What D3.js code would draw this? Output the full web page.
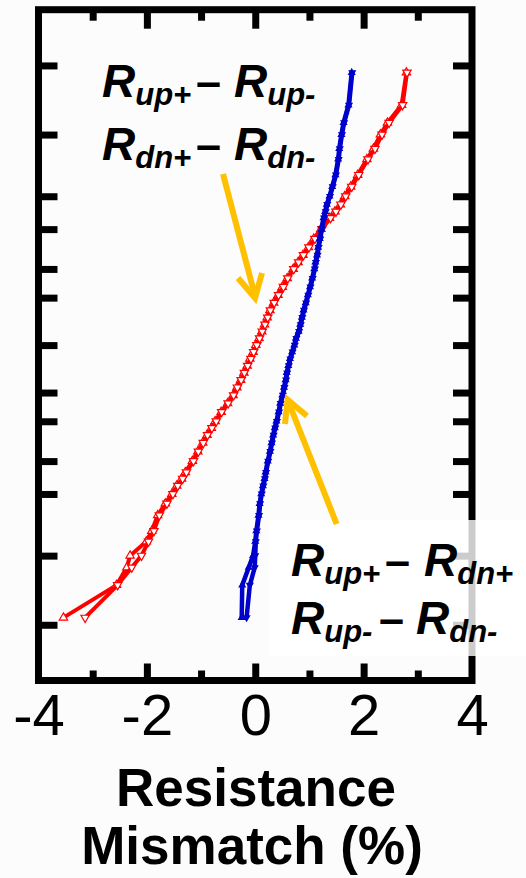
<!DOCTYPE html>
<head>
    <meta charset="utf-8">
    <script src="https://cdn.jsdelivr.net/npm/d3@7"></script>
    <style>
        body { margin: 0; background: #fcfcfc; }
        svg { display: block; font-family: "Liberation Sans", Arial, sans-serif; }
        .tick line { stroke: black; stroke-width: 7px; }
    </style>
</head>

<body>

<script>

    // cumulative probability (%) of each point, shared by every series
    var probs = [0.13, 0.4, 0.7, 1, 1.5, 2, 3, 4, 5, 6,
                 7, 8, 10, 12, 14, 16, 18, 20, 23, 26,
                 29, 32, 35, 38, 41, 44, 47, 50, 53, 56,
                 59, 62, 65, 68, 71, 74, 77, 80, 82, 84,
                 86, 88, 90, 92, 93, 94, 95, 96, 97, 98,
                 98.5, 99, 99.3, 99.6, 99.87];

    // red: Rup+ - Rup-  and  Rdn+ - Rdn-
    var redA = [-3.54, -2.56, -2.37, -2.31, -2.01, -1.91, -1.80, -1.66, -1.54, -1.45,
                -1.36, -1.29, -1.16, -1.06, -0.97, -0.89, -0.81, -0.74, -0.63, -0.51,
                -0.41, -0.34, -0.27, -0.21, -0.15, -0.10, -0.04, 0.01, 0.07, 0.12,
                0.17, 0.22, 0.27, 0.34, 0.42, 0.50, 0.59, 0.70, 0.79, 0.88,
                0.98, 1.08, 1.21, 1.37, 1.47, 1.57, 1.65, 1.76, 1.89, 2.06,
                2.18, 2.31, 2.44, 2.70, 2.79];
    var redB = [-3.14, -2.54, -2.28, -2.10, -1.97, -1.87, -1.77, -1.63, -1.52, -1.43,
                -1.34, -1.27, -1.14, -1.05, -0.96, -0.88, -0.80, -0.72, -0.62, -0.50,
                -0.40, -0.33, -0.26, -0.20, -0.14, -0.08, -0.03, 0.03, 0.08, 0.13,
                0.18, 0.23, 0.28, 0.35, 0.43, 0.52, 0.60, 0.71, 0.80, 0.89,
                0.99, 1.10, 1.23, 1.39, 1.49, 1.58, 1.67, 1.78, 1.91, 2.08,
                2.21, 2.34, 2.47, 2.72, 2.80];

    // blue: Rup+ - Rdn+  and  Rup- - Rdn-
    var blueA = [-0.25, -0.24, -0.12, -0.04, 0.00, 0.02, 0.06, 0.08, 0.11, 0.14,
                 0.17, 0.19, 0.23, 0.27, 0.30, 0.33, 0.36, 0.39, 0.43, 0.46,
                 0.50, 0.53, 0.56, 0.58, 0.61, 0.64, 0.68, 0.72, 0.75, 0.80,
                 0.83, 0.86, 0.89, 0.93, 0.97, 1.01, 1.05, 1.09, 1.11, 1.14,
                 1.16, 1.19, 1.22, 1.26, 1.29, 1.32, 1.37, 1.42, 1.48, 1.53,
                 1.55, 1.59, 1.63, 1.72, 1.78];
    var blueB = [-0.16, -0.10, -0.01, 0.00, 0.01, 0.03, 0.07, 0.09, 0.12, 0.15,
                 0.18, 0.20, 0.24, 0.28, 0.31, 0.34, 0.37, 0.40, 0.44, 0.47,
                 0.51, 0.54, 0.57, 0.59, 0.62, 0.65, 0.69, 0.73, 0.76, 0.81,
                 0.84, 0.87, 0.90, 0.94, 0.98, 1.02, 1.06, 1.10, 1.12, 1.15,
                 1.17, 1.20, 1.23, 1.27, 1.30, 1.33, 1.38, 1.43, 1.49, 1.54,
                 1.56, 1.60, 1.64, 1.73, 1.79];

    var xMajor = [-4, -2, 0, 2, 4];
    var xMinor = [-3, -1, 1, 3];
    var yTicks = [0.1, 1, 5, 10, 20, 30, 50, 70, 80, 90, 95, 99, 99.9];

    // inverse normal cdf (Acklam) for the probability axis
    function probit(p) {
        var a = [-3.969683028665376e+01, 2.209460984245205e+02, -2.759285104469687e+02, 1.383577518672690e+02, -3.066479806614716e+01, 2.506628277459239e+00];
        var b = [-5.447609879822406e+01, 1.615858368580409e+02, -1.556989798598866e+02, 6.680131188771972e+01, -1.328068155288572e+01];
        var c = [-7.784894002430293e-03, -3.223964580411365e-01, -2.400758277161838e+00, -2.549732539343734e+00, 4.374664141464968e+00, 2.938163982698783e+00];
        var d = [7.784695709041462e-03, 3.224671290700398e-01, 2.445134137142996e+00, 3.754408661907416e+00];
        var q, r;
        if (p < 0.02425) {
            q = Math.sqrt(-2 * Math.log(p));
            return (((((c[0]*q+c[1])*q+c[2])*q+c[3])*q+c[4])*q+c[5]) / ((((d[0]*q+d[1])*q+d[2])*q+d[3])*q+1);
        }
        if (p > 1 - 0.02425) {
            q = Math.sqrt(-2 * Math.log(1 - p));
            return -(((((c[0]*q+c[1])*q+c[2])*q+c[3])*q+c[4])*q+c[5]) / ((((d[0]*q+d[1])*q+d[2])*q+d[3])*q+1);
        }
        q = p - 0.5; r = q * q;
        return (((((a[0]*r+a[1])*r+a[2])*r+a[3])*r+a[4])*r+a[5])*q / (((((b[0]*r+b[1])*r+b[2])*r+b[3])*r+b[4])*r+1);
    }

    // frame edges (centre of the 7px border)
    var fLeft = 38.5, fRight = 472, fTop = 9.7, fBottom = 680.5;

    var x = d3.scaleLinear().domain([-4, 4]).range([fLeft, fRight]);
    var z = d3.scaleLinear().domain([-3.706, 3.706]).range([fBottom, fTop]);
    var y = function(p) { return z(probit(p / 100)); };

    var svg = d3.select("body").append("svg")
        .attr("width", 526)
        .attr("height", 878);

    // series
    var line = d3.line()
        .x(function(d) { return x(d[0]); })
        .y(function(d) { return y(d[1]); });

    function pts(vals) {
        return vals.map(function(v, i) { return [v, probs[i]]; });
    }

    var series = [
        { vals: redA, color: "#ff0000", width: 4, tri: 0, fill: "#ffffff", size: 30 },
        { vals: redB, color: "#ff0000", width: 4, tri: 180, fill: "#ffffff", size: 30 },
        { vals: blueA, color: "#0000cc", width: 4.5, tri: 0, fill: "#0000cc", size: 16 },
        { vals: blueB, color: "#0000cc", width: 4.5, tri: 180, fill: "#0000cc", size: 16 }
    ];

    var tri = d3.symbol().type(d3.symbolTriangle);

    series.forEach(function(s) {
        var g = svg.append("g");
        g.append("path")
            .datum(pts(s.vals))
            .attr("d", line)
            .attr("fill", "none")
            .attr("stroke", s.color)
            .attr("stroke-width", s.width)
            .attr("stroke-linejoin", "round");
        g.selectAll("path.m").data(pts(s.vals)).enter().append("path")
            .attr("class", "m")
            .attr("d", tri.size(s.size))
            .attr("transform", function(d) { return "translate(" + x(d[0]) + "," + y(d[1]) + ") rotate(" + s.tri + ")"; })
            .attr("fill", s.fill)
            .attr("stroke", s.color)
            .attr("stroke-width", 1.2);
    });

    // frame and inward ticks
    svg.append("rect")
        .attr("x", fLeft).attr("y", fTop)
        .attr("width", fRight - fLeft).attr("height", fBottom - fTop)
        .attr("fill", "none")
        .attr("stroke", "black")
        .attr("stroke-width", 7);

    function ticks(axis, tr) {
        var g = svg.append("g").attr("transform", tr).call(axis);
        g.select(".domain").remove();
        g.selectAll("text").remove();
        g.selectAll("line").attr("stroke", "black");
    }

    var inner = xMajor.slice(1, -1);
    ticks(d3.axisTop(x).tickValues(inner).tickSize(17), "translate(0," + fBottom + ")");
    ticks(d3.axisTop(x).tickValues(xMinor).tickSize(10), "translate(0," + fBottom + ")");
    ticks(d3.axisBottom(x).tickValues(inner).tickSize(19), "translate(0," + fTop + ")");
    ticks(d3.axisBottom(x).tickValues(xMinor).tickSize(11), "translate(0," + fTop + ")");

    var yAxisScale = d3.scaleLinear().domain([fBottom, fTop]).range([fBottom, fTop]);
    var yPos = yTicks.map(function(p) { return y(p); });
    ticks(d3.axisRight(yAxisScale).tickValues(yPos).tickSize(19), "translate(" + fLeft + ",0)");
    ticks(d3.axisLeft(yAxisScale).tickValues(yPos).tickSize(19), "translate(" + fRight + ",0)");

    // x tick labels
    var xl = svg.append("g")
        .attr("transform", "translate(0," + fBottom + ")")
        .call(d3.axisBottom(x).tickValues(xMajor).tickSize(0).tickPadding(13)
            .tickFormat(function(d) { return String(d); }));
    xl.select(".domain").remove();
    xl.selectAll("text")
        .attr("font-family", "'Liberation Sans', Arial, sans-serif")
        .style("font-size", "58px")
        .attr("fill", "black");

    // axis title
    svg.append("text").attr("x", 256).attr("y", 806)
        .attr("text-anchor", "middle")
        .style("font-size", "53px").style("font-weight", "bold")
        .text("Resistance");
    svg.append("text").attr("x", 252).attr("y", 864)
        .attr("text-anchor", "middle")
        .style("font-size", "53px").style("font-weight", "bold")
        .text("Mismatch (%)");

    // label box over the right frame
    svg.append("rect")
        .attr("x", 270).attr("y", 520)
        .attr("width", 260).attr("height", 136)
        .attr("fill", "#ffffff")
        .attr("opacity", 0.8);

    // annotations
    function label(base, x1, sub1, xd, x2, sub2) {
        var t = svg.append("text")
            .style("font-weight", "bold")
            .attr("fill", "black");
        t.append("tspan").attr("x", x1).attr("y", base)
            .style("font-size", "46px").style("font-style", "italic").text("R");
        t.append("tspan").attr("y", base + 8)
            .style("font-size", "31px").style("font-style", "italic").text(sub1);
        t.append("tspan").attr("x", xd).attr("y", base)
            .style("font-size", "45px").text("\u2013");
        t.append("tspan").attr("x", x2).attr("y", base)
            .style("font-size", "46px").style("font-style", "italic").text("R");
        t.append("tspan").attr("y", base + 8)
            .style("font-size", "31px").style("font-style", "italic").text(sub2);
    }

    label(97, 102, "up+", 196, 234, "up-");
    label(160, 102, "dn+", 196, 234, "dn-");
    label(576, 291, "up+", 385, 424, "dn+");
    label(634, 291, "up-", 379, 416, "dn-");

    // arrows
    var arrows = [
        { shaft: [[223, 174], [255, 296]], head: [[238, 278], [255, 298], [262, 273]] },
        { shaft: [[336.6, 524], [288.5, 402]], head: [[285, 424], [287.6, 399.7], [307, 416]] }
    ];
    arrows.forEach(function(a) {
        svg.append("path")
            .attr("d", d3.line()(a.shaft))
            .attr("stroke", "#ffc000").attr("stroke-width", 6).attr("fill", "none");
        svg.append("path")
            .attr("d", d3.line()(a.head))
            .attr("stroke", "#ffc000").attr("stroke-width", 6).attr("fill", "none")
            .attr("stroke-linejoin", "miter");
    });

</script>
</body>
